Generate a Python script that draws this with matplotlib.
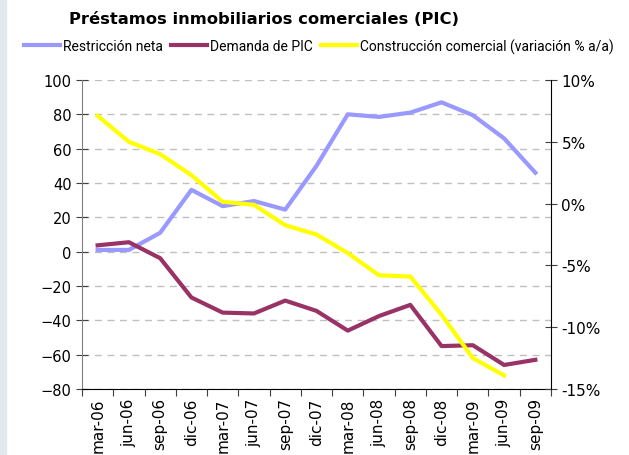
import matplotlib
matplotlib.use('Agg')
import matplotlib.pyplot as plt
import numpy as np

meses = ['mar-06', 'jun-06', 'sep-06', 'dic-06', 'mar-07', 'jun-07', 'sep-07', 'dic-07',
         'mar-08', 'jun-08', 'sep-08', 'dic-08', 'mar-09', 'jun-09', 'sep-09']
restriccion = [1, 1, 11, 36, 26.5, 29.5, 24.5, 50, 80, 78.5, 81, 87, 79.5, 66, 46]
demanda = [3.7, 5.5, -3.8, -26.7, -35.5, -36, -28.5, -34.5, -46, -37.5, -31, -55, -54.5, -66, -63]
construccion = [7.1, 5.0, 4.0, 2.3, 0.15, -0.1, -1.75, -2.5, -4.0, -5.8, -5.9, -9.0, -12.5, -13.9]

plt.rcParams['font.family'] = ['DejaVu Sans']

fig = plt.figure(figsize=(6.29, 4.56), dpi=100)
fig.patches.append(plt.Rectangle((0, 0), 6 / 629, 1, transform=fig.transFigure,
                                 color='#e3e9f0', zorder=-1))
ax = fig.add_axes([82 / 629, 1 - 390 / 456, (551 - 82) / 629, (390 - 81) / 456])
ax2 = ax.twinx()

x = np.arange(len(meses))
ax.plot(x, restriccion, color='#9999ff', lw=3, label='Restricción neta')
ax.plot(x, demanda, color='#993366', lw=3, label='Demanda de PIC')
ax2.plot(x[:len(construccion)], construccion, color='#ffff00', lw=3,
         label='Construcción comercial (variación % a/a)')

ax.set_xlim(-0.5, len(meses) - 0.5)
ax.set_ylim(-80, 100)
ax.set_yticks(range(-80, 101, 20))
ax.yaxis.grid(True, color='#c0c0c0', ls=(0, (5, 4)), lw=1)
ax.set_axisbelow(True)
ax2.set_ylim(-15, 10)
ax2.set_yticks(range(-15, 11, 5))
ax2.set_yticklabels([f'{v}%' for v in range(-15, 11, 5)])

ax.set_xticks(np.arange(len(meses) + 1) - 0.5, minor=False)
ax.set_xticklabels([])
ax.set_xticks(x, minor=True)
ax.set_xticklabels(meses, minor=True, rotation=90, fontsize=11)
ax.tick_params(axis='x', which='minor', length=0, pad=6)
ax.tick_params(axis='x', which='major', length=5, direction='out', color='#404040')
ax.tick_params(axis='y', direction='inout', length=8, labelsize=10.5, color='#404040')
ax2.tick_params(axis='y', direction='inout', length=8, labelsize=11, color='#404040')

for s in ['top']:
    ax.spines[s].set_visible(False)
    ax2.spines[s].set_visible(False)
ax.spines['left'].set_color('#808080')
ax2.spines['left'].set_visible(False)
ax.spines['right'].set_visible(False)
ax2.spines['right'].set_color('black')
ax2.spines['bottom'].set_visible(False)

fig.text(264 / 629, 1 - 20 / 456, 'Préstamos inmobiliarios comerciales (PIC)', ha='center',
         va='center', fontsize=11.8, fontweight='bold')
h1, l1 = ax.get_legend_handles_labels()
h2, l2 = ax2.get_legend_handles_labels()
fig.legend(h1 + h2, l1 + l2, loc='center', bbox_to_anchor=(319 / 629, 1 - 47 / 456), ncol=3,
           frameon=False, handlelength=2.6, handletextpad=0.2, columnspacing=0.6,
           prop={'family': ['Roboto', 'DejaVu Sans'], 'size': 10})

fig.savefig('out.png', dpi=100)
